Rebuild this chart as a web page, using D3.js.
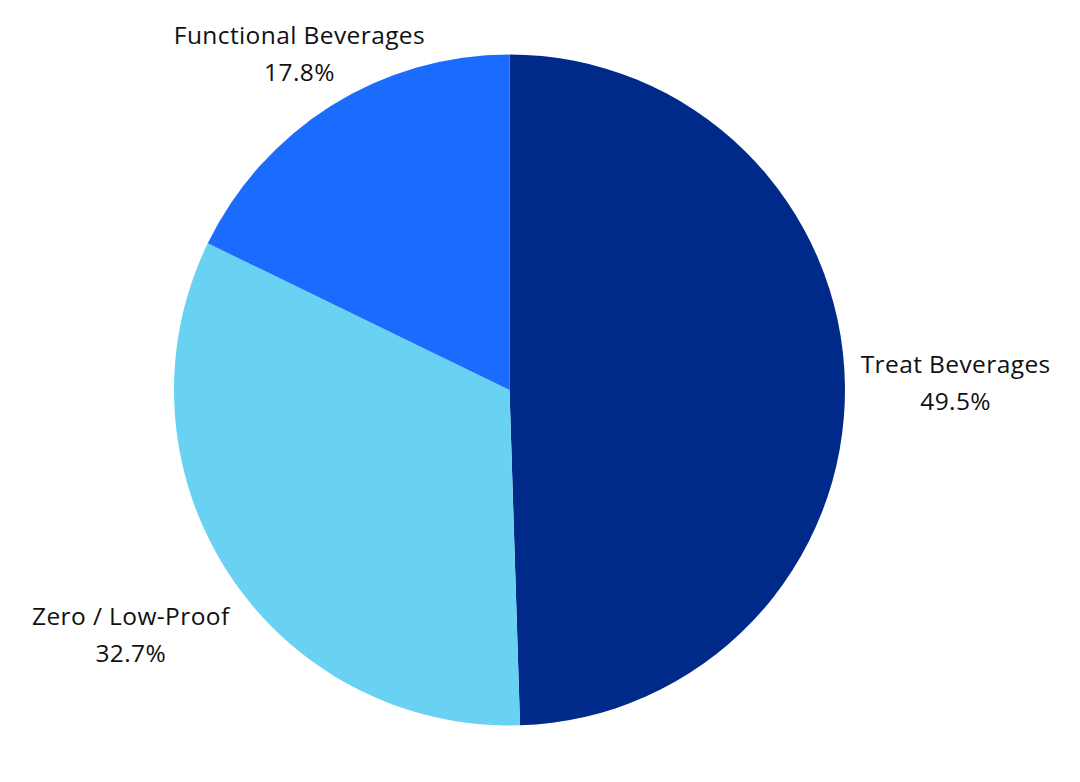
<!DOCTYPE html>
<html>
<head>
<meta charset="utf-8">
<script src="https://cdn.jsdelivr.net/npm/d3@7.9.0/dist/d3.min.js"></script>
<style>
  html, body { margin: 0; padding: 0; background: #fff; }
  svg { display: block; }
  text { font-family: "Open Sans", Lato, sans-serif; fill: #111; letter-spacing: 0.4px; }
</style>
</head>
<body>
<svg id="chart" width="1080" height="782"></svg>
<script>
// data
const categories = ['Treat Beverages', 'Zero / Low-Proof', 'Functional Beverages'];
const shares = [49.5, 32.7, 17.8];
const sliceColors = ['#002a8a', '#69d2f2', '#1b6bff'];

const width = 1080, height = 782;
const cx = 509.5, cy = 390, radius = 335.5;

// how far out each label sits (as a multiple of the radius)
const labelFactor = { 'Treat Beverages': 1.33, 'Zero / Low-Proof': 1.345, 'Functional Beverages': 1.18 };

const data = categories.map((c, i) => ({ label: c, value: shares[i] }));

const svg = d3.select('#chart');
const g = svg.append('g').attr('transform', `translate(${cx},${cy})`);

const color = d3.scaleOrdinal().domain(categories).range(sliceColors);

const pie = d3.pie().value(d => d.value).sort(null);
const arcs = pie(data);

const arc = d3.arc().innerRadius(0).outerRadius(radius);

g.selectAll('path')
  .data(arcs)
  .join('path')
  .attr('d', arc)
  .attr('fill', d => color(d.data.label));

const labels = g.selectAll('g.label')
  .data(arcs)
  .join('g')
  .attr('class', 'label')
  .attr('transform', d => {
    const r = radius * labelFactor[d.data.label];
    const [x, y] = d3.arc().innerRadius(r).outerRadius(r).centroid(d);
    return `translate(${x},${y})`;
  });

labels.append('text')
  .attr('text-anchor', 'middle')
  .attr('font-size', 24.5)
  .attr('y', -10)
  .text(d => d.data.label);

labels.append('text')
  .attr('text-anchor', 'middle')
  .attr('font-size', 24.5)
  .attr('y', 27)
  .text(d => d.data.value.toFixed(1) + '%');
</script>
</body>
</html>
